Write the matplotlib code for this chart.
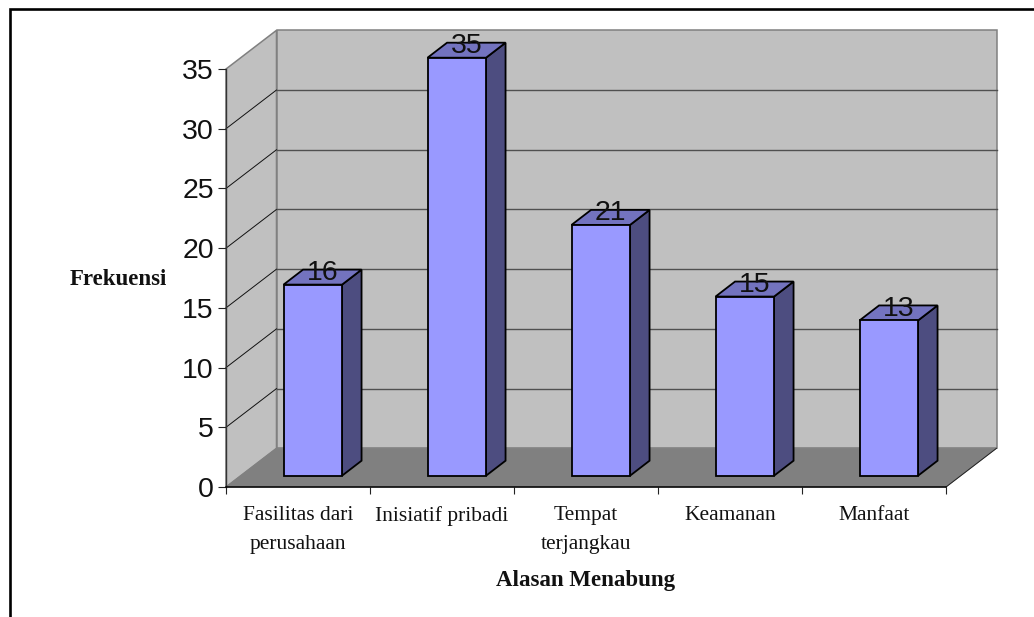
import matplotlib
matplotlib.use("Agg")
import matplotlib.pyplot as plt
from matplotlib.lines import Line2D
from matplotlib.patches import Polygon, Rectangle

categories = ["Fasilitas dari\nperusahaan", "Inisiatif pribadi", "Tempat\nterjangkau", "Keamanan", "Manfaat"]
frequencies = [16, 35, 21, 15, 13]
value_ticks = [0, 5, 10, 15, 20, 25, 30, 35]

WIDTH, HEIGHT = 1034, 617
PX_X = 720 / 5      # pixels per category
PX_Y = 418 / 35     # pixels per unit of frequency

# Oblique projection: depth of the whole box and of a single bar, in data units
wall_dx, wall_dy = 50.5 / PX_X, 38.7 / PX_Y
bar_dx, bar_dy = 19.5 / PX_X, 15.0 / PX_Y
floor_dx, floor_dy = 14.8 / PX_X, 11.3 / PX_Y
bar_width = 58.5 / PX_X

FACE, TOP, SIDE = "#9999FF", "#7373BF", "#4D4D80"
WALL, FLOOR = "#C0C0C0", "#808080"
SERIF = "Liberation Serif"
SANS = "Liberation Sans"

fig = plt.figure(figsize=(WIDTH / 100, HEIGHT / 100), dpi=100, facecolor="white")
ax = fig.add_axes([226 / WIDTH, 1 - 487 / HEIGHT, 720 / WIDTH, 418 / HEIGHT])
ax.set_xlim(0, 5)
ax.set_ylim(0, 35)
ax.patch.set_visible(False)


def poly(points, face, edge, lw, z):
    ax.add_patch(Polygon(points, closed=True, facecolor=face, edgecolor=edge,
                         linewidth=lw, zorder=z, clip_on=False, joinstyle="miter"))


# Box: side wall, back wall and floor
top = value_ticks[-1]
poly([(0, 0), (wall_dx, wall_dy), (wall_dx, top + wall_dy), (0, top)], WALL, FLOOR, 1.1, 1)
ax.add_patch(Rectangle((wall_dx, wall_dy), 5, top, facecolor=WALL, edgecolor=FLOOR,
                       linewidth=1.1, zorder=1, clip_on=False))
poly([(0, 0), (5, 0), (5 + wall_dx, wall_dy), (wall_dx, wall_dy)], FLOOR, FLOOR, 0.6, 1.2)
ax.plot([5, 5 + wall_dx], [0, wall_dy], color="#222222", lw=0.7, zorder=1.3, clip_on=False)

# Gridlines run along the side wall and across the back wall
for v in value_ticks[1:-1]:
    ax.plot([0, wall_dx], [v, v + wall_dy], color="#111111", lw=0.7, zorder=1.5, clip_on=False)
    ax.plot([wall_dx, 5 + wall_dx], [v + wall_dy, v + wall_dy], color="#505050", lw=1.0,
            zorder=1.5, clip_on=False)

# Bars with front, top and side faces, and value labels
for i, value in enumerate(frequencies):
    x0 = i + 0.5 + floor_dx - bar_width / 2
    x1 = x0 + bar_width
    y0 = floor_dy
    y1 = floor_dy + value
    poly([(x1, y0), (x1 + bar_dx, y0 + bar_dy), (x1 + bar_dx, y1 + bar_dy), (x1, y1)],
         SIDE, "black", 1.3, 3)
    poly([(x0, y1), (x1, y1), (x1 + bar_dx, y1 + bar_dy), (x0 + bar_dx, y1 + bar_dy)],
         TOP, "black", 1.3, 3)
    poly([(x0, y1), (x0, y0), (x1, y0), (x1, y1)], FACE, "black", 1.3, 3.1)
    ax.annotate(str(value), (x0 + (bar_width + bar_dx) / 2, y1), xytext=(0, 3.4),
                textcoords="offset points", ha="center", va="baseline",
                fontsize=20.5, family=SANS, color="#111111", zorder=5, annotation_clip=False)

# Axes
for side in ("top", "right"):
    ax.spines[side].set_visible(False)
ax.spines["left"].set_color("#333333")
ax.spines["left"].set_linewidth(1.0)
ax.spines["bottom"].set_color("black")
ax.spines["bottom"].set_linewidth(1.1)

ax.set_yticks(value_ticks)
ax.set_yticklabels([str(v) for v in value_ticks], family=SANS, fontsize=20.5, color="#111111")
ax.tick_params(axis="y", length=5.8, width=0.8, color="#222222", pad=3)

ax.set_xticks(range(6))
ax.set_xticklabels([])
ax.tick_params(axis="x", which="major", length=5.2, width=0.8, color="#222222")
ax.set_xticks([i + 0.5 for i in range(5)], categories, minor=True)
ax.tick_params(axis="x", which="minor", length=0, pad=13.5)
for label in ax.get_xticklabels(minor=True):
    label.set(family=SERIF, fontsize=15.5, color="#111111", linespacing=1.72, va="top")

ax.set_xlabel("Alasan Menabung", family=SERIF, fontsize=16.5, fontweight="bold", color="#111111")
ax.xaxis.set_label_coords(0.5, -(586 - 487) / 418, transform=ax.transAxes)
ax.xaxis.label.set_va("baseline")
ax.set_ylabel("Frekuensi", family=SERIF, fontsize=16.5, fontweight="bold", rotation=0,
              ha="center", va="center", color="#111111")
ax.yaxis.set_label_coords((118.5 - 226) / 720, (487 - 279.5) / 418)

# Border along the top and left of the figure
fig.add_artist(Line2D([10 / WIDTH, 10 / WIDTH, 1], [0, 1 - 9 / HEIGHT, 1 - 9 / HEIGHT],
                      color="black", lw=1.9, solid_joinstyle="miter"))

fig.savefig("out.png", dpi=100, facecolor="white")
